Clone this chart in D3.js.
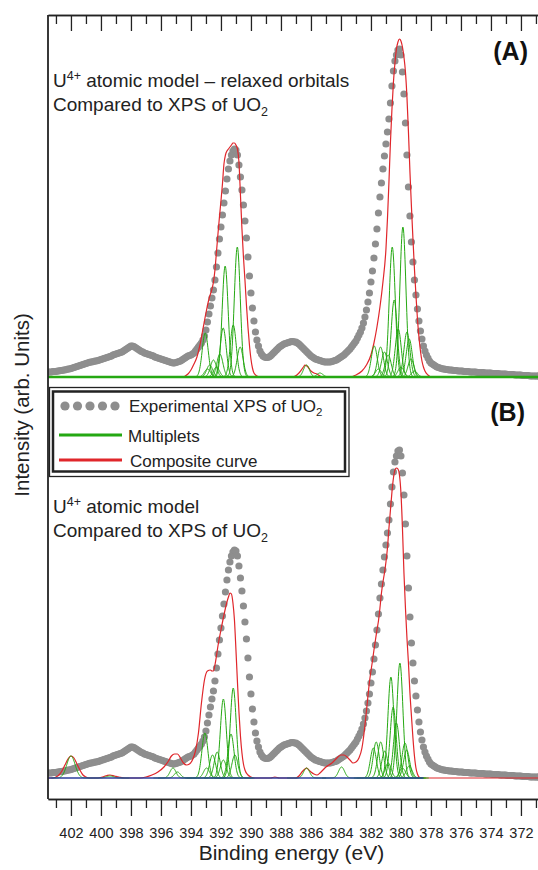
<!DOCTYPE html>
<html>
<head>
<meta charset="utf-8">
<script src="https://cdn.jsdelivr.net/npm/d3@7"></script>
<style>
  body { margin: 0; background: #fff; }
  svg { display: block; font-family: "Liberation Sans", Arial, sans-serif; }
</style>
</head>
<body>
<div id="chart"></div>
<script>
// ---- data (intensity in arbitrary units) ----
// experimental XPS of UO2, one value every 0.1 eV starting at 403.5 eV
var expStart = 403.5, expStep = 0.1;
var expIntensity = [
  5,5,5,5.5,5.5,5.5,
  6,6,6.5,6.5,7,7,7.5,8,8,8.5,
  9,9.5,10,10.5,11,11.5,12,12.5,13,13.5,
  14,14.5,15,15,15.5,16,16,16.5,17,17.5,
  18,18.5,19,19.5,20,20.5,21,22,22.5,23,
  23.5,24,24.5,25,26,27,28,29,30,31,
  31,30.5,29.5,28.5,27.5,26.5,25.5,25,24,23.5,
  23,22.5,22,21.5,21,20,19.5,19,18.5,18,
  17.5,17,16.5,16,15.5,15,14.5,14,14,14.5,
  15,15.5,16,17,18,19,20,21,21.5,22,
  23,24,26,28,30,32,34,37,41,47,
  55,63,71,79,87,97,110,124,138,150,
  162,174,186,198,208,216,222,226,228,227,
  222,212,200,187,172,156,139,120,101,84,
  69,56,45,37,31,26,23,21,20,19.5,
  19.5,20,21,22.5,24,25.5,27,28.5,30,31,
  32,33,33.5,34,34.5,35,35.5,35.5,35,35,
  34,33,31.5,30,28.5,27,25.5,24,22.5,21,
  20,19,18,17.5,17,16.5,16,15.5,15,15,
  15,15,15,15.5,16,16.5,17,18,19,20,
  21,22,23.5,25,26.5,28,30,32,34,36,
  39,42,45,49,54,60,67,75,84,95,
  106,119,133,148,164,180,194,208,221,233,
  245,258,274,291,306,316,322,327,328,322,
  305,283,254,222,190,161,135,115,97,82,
  68,56,46,38,31,26,22,19,16,14,
  13,12,11,10,9.5,9,8.5,8,8,7.5,
  7.5,7,7,7,6.5,6.5,6.5,6,6,6,
  6,5.5,5.5,5.5,5.5,5,5,5,5,5,
  4.5,4.5,4.5,4.5,4.5,4,4,4,4,4,
  3.5,3.5,3.5,3.5,3.5,3,3,3,3,3,
  2.5,2.5,2.5,2.5,2.5,2,2,2,2,2,
  1.5,1.5,1.5,1.5,1.5,1,1,1,1,1,
  1,1
];

// composite curves [binding energy, intensity]
var compositeA = [
  [403.53,0],[394.6,0],[394.2,3],[394.0,7],[393.8,13],[393.6,20],[393.4,32],[393.2,48],[393.0,64],
  [392.8,78],[392.6,88],[392.5,95],[392.4,107],[392.3,125],[392.2,143],[392.1,160],[392.0,176],
  [391.9,193],[391.8,213],[391.7,222],[391.6,226],[391.5,228],[391.4,230],[391.3,232],[391.2,234],
  [391.1,234],[391.0,232],[390.9,228],[390.8,215],[390.7,182],[390.6,148],[390.5,120],[390.4,97],
  [390.3,72],[390.2,50],[390.1,32],[390.0,18],[389.9,9],[389.8,4],[389.6,1],[389.4,0],
  [387.2,0],[386.8,4],[386.5,10],[386.4,12],[386.2,10],[386.0,6],[385.8,4],[385.6,3],[385.4,1],[385.2,0],
  [383.4,0],[383.0,2],[382.6,6],[382.3,12],[382.0,22],[381.8,34],[381.6,50],[381.4,70],[381.2,95],
  [381.0,128],[380.9,158],[380.8,195],[380.7,235],[380.6,268],[380.5,295],[380.4,314],[380.3,328],
  [380.2,335],[380.1,338],[380.0,336],[379.9,330],[379.8,320],[379.7,305],[379.6,280],[379.5,245],
  [379.4,205],[379.3,170],[379.2,138],[379.1,108],[379.0,82],[378.9,58],[378.8,40],[378.7,26],
  [378.6,16],[378.5,10],[378.4,6],[378.2,2],[378.0,0],[370.73,0]
];
var compositeB = [
  [403.53,0],[403.2,0],[403.0,1],[402.8,3],[402.6,7],[402.4,13],[402.2,19],[402.0,22],[401.8,20],
  [401.6,14],[401.4,8],[401.2,3],[401.0,1],[400.8,0],[400.2,0],[399.9,1],[399.6,2.5],[399.4,3],
  [399.1,2],[398.8,1],[398.4,0],[397.4,0],[397.0,1],[396.6,3],[396.2,6],[395.8,11],[395.5,17],
  [395.3,22],[395.1,24],[394.9,24],[394.7,20],[394.5,15],[394.3,13],[394.1,14],[393.9,18],
  [393.7,27],[393.5,45],[393.3,75],[393.1,98],[392.9,107],[392.7,108],[392.6,107],[392.5,107],
  [392.4,113],[392.3,122],[392.2,132],[392.0,148],[391.8,163],[391.6,176],[391.5,181],[391.4,185],
  [391.3,184],[391.2,175],[391.1,158],[391.0,128],[390.9,96],[390.8,66],[390.7,42],[390.6,25],
  [390.5,14],[390.4,8],[390.2,3],[390.0,1],[389.8,0],[388.7,0],[388.4,1],[388.1,0],[387.0,0],
  [386.8,2],[386.6,6],[386.4,9],[386.3,10],[386.2,9],[386.0,6],[385.8,4],[385.6,3],[385.4,5],
  [385.2,8],[385.0,11],[384.8,13],[384.6,15],[384.4,18],[384.2,21],[384.0,23],[383.8,23],
  [383.6,21],[383.4,18],[383.2,15],[383.0,16],[382.8,20],[382.6,30],[382.5,40],[382.4,53],
  [382.3,67],[382.2,82],[382.1,96],[382.0,107],[381.9,117],[381.8,128],[381.7,138],[381.6,148],
  [381.5,157],[381.4,170],[381.3,185],[381.2,196],[381.1,205],[381.0,216],[380.9,230],[380.8,250],
  [380.7,268],[380.6,286],[380.5,300],[380.4,308],[380.3,310],[380.2,309],[380.1,303],[380.0,285],
  [379.9,250],[379.8,205],[379.7,170],[379.6,140],[379.5,115],[379.4,85],[379.3,62],[379.2,40],
  [379.1,22],[379.0,10],[378.9,4],[378.8,1],[378.6,0],[370.73,0]
];

// multiplet lines [centre eV, height, gaussian width eV]
var multipletsA = [
  [393.05,44,0.2],[392.9,8,0.2],[392.75,12,0.2],[392.5,17,0.2],[392.3,10,0.2],[392.07,23,0.2],
  [391.85,49,0.2],[391.72,111,0.2],[391.18,52,0.2],[390.91,130,0.2],[390.72,30,0.2],
  [386.3,12,0.2],[385.4,4,0.2],
  [381.78,31,0.2],[381.5,8,0.2],[381.36,30,0.2],[381.1,25,0.2],[380.85,22,0.2],[380.58,130,0.2],
  [380.45,77,0.2],[380.18,48,0.2],[380.0,10,0.2],[379.87,150,0.2],[379.6,45,0.2],[379.45,38,0.2],
  [379.33,18,0.2],[379.1,6,0.2]
];
var multipletsB = [
  [402.0,22,0.28],[399.4,2,0.25],[395.2,10,0.2],[394.9,6,0.2],
  [393.07,45,0.2],[392.96,10,0.2],[392.56,23,0.2],[392.25,26,0.2],[391.84,79,0.2],[391.84,18,0.2],
  [391.33,44,0.2],[391.18,90,0.2],[391.07,23,0.2],
  [386.29,10,0.2],[383.96,11,0.2],
  [381.84,30,0.2],[381.65,36,0.2],[381.35,36,0.2],[381.08,27,0.2],[380.85,15,0.2],[380.67,101,0.2],
  [380.52,71,0.2],[380.3,55,0.2],[380.07,115,0.2],[379.9,10,0.2],[379.73,35,0.2],[379.62,28,0.2],
  [379.45,12,0.2]
];

var baselineA = [[403.53,0],[370.73,0]];
var baselineB = [[403.53,0],[378.5,0]];

var majorTicks = [402,400,398,396,394,392,390,388,386,384,382,380,378,376,374,372];
var minorTicks = [403,401,399,397,395,393,391,389,387,385,383,381,379,377,375,373,371];

// ---- layout ----
var W = 538, H = 870;
var colGray = "#8e8e8e", colGreen = "#25a812", colRed = "#e0262b", colBlue = "#2c3f9c", colAxis = "#222";

var svg = d3.select("#chart").append("svg")
    .attr("width", W)
    .attr("height", H);

var x = d3.scaleLinear().domain([403.53, 370.73]).range([48, 540]);
var yA = d3.scaleLinear().domain([0, 362]).range([377, 15]);
var yB = d3.scaleLinear().domain([0, 362]).range([778, 416]);

svg.append("clipPath").attr("id", "plotclip")
  .append("rect").attr("x", 48).attr("y", 15).attr("width", 492).attr("height", 784);

var plot = svg.append("g").attr("clip-path", "url(#plotclip)");

var expPoints = expIntensity.map(function(v, i) {
    return { e: +(expStart - i * expStep).toFixed(2), v: v };
});

function gaussLine(m) {
    var pts = [];
    for (var e = m[0] + 1.3; e >= m[0] - 1.3; e -= 0.02) {
        pts.push([e, m[1] * Math.exp(-0.5 * Math.pow((e - m[0]) / m[2], 2))]);
    }
    return pts;
}

function drawPanel(y, composite, multiplets, baseline, baseColor, baseWidth) {
    var g = plot.append("g");
    var line = d3.line()
        .x(function(d) { return x(d[0]); })
        .y(function(d) { return y(d[1]); });

    // experimental points
    g.append("g").selectAll("circle")
        .data(expPoints)
      .enter().append("circle")
        .attr("cx", function(d) { return x(d.e); })
        .attr("cy", function(d) { return y(d.v); })
        .attr("r", 3.6)
        .style("fill", colGray);

    // composite curve
    g.append("path")
        .datum(composite)
        .attr("d", line.curve(d3.curveMonotoneX))
        .style("fill", "none")
        .style("stroke", colRed)
        .style("stroke-width", 1.2);

    // multiplets
    g.append("g").selectAll("path")
        .data(multiplets)
      .enter().append("path")
        .attr("d", function(d) { return d3.line().x(function(p) { return x(p[0]); }).y(function(p) { return y(p[1]); })(gaussLine(d)); })
        .style("fill", "none")
        .style("stroke", colGreen)
        .style("stroke-width", 1);

    g.append("path")
        .datum(baseline)
        .attr("d", d3.line().x(function(d) { return x(d[0]); }).y(function(d) { return y(d[1]); }))
        .style("stroke", baseColor)
        .style("stroke-width", baseWidth);
}

drawPanel(yA, compositeA, multipletsA, baselineA, colGreen, 2.5);
drawPanel(yB, compositeB, multipletsB, baselineB, colBlue, 1.5);

// ---- axes ----
function styleAxis(g) {
    g.selectAll("line").style("stroke", colAxis).style("stroke-width", 1.3);
    g.selectAll("path.domain").style("stroke", colAxis).style("stroke-width", 1.6);
}

var topAxis = svg.append("g").attr("transform", "translate(0,15)");
topAxis.call(d3.axisBottom(x).tickValues(majorTicks).tickSize(16).tickSizeOuter(0).tickFormat(""));
topAxis.append("g").call(d3.axisBottom(x).tickValues(minorTicks).tickSize(9).tickSizeOuter(0).tickFormat(""));
styleAxis(topAxis);

var bottomAxis = svg.append("g").attr("transform", "translate(0,799)");
bottomAxis.call(d3.axisBottom(x).tickValues(majorTicks).tickSize(17).tickSizeOuter(0).tickPadding(12).tickFormat(d3.format("d")));
bottomAxis.append("g").call(d3.axisBottom(x).tickValues(minorTicks).tickSize(9).tickSizeOuter(0).tickFormat(""));
styleAxis(bottomAxis);
bottomAxis.selectAll("text")
    .style("font-family", "'Liberation Sans', Arial, sans-serif")
    .style("font-size", "14.5px")
    .style("fill", "#222");

svg.append("line")
    .attr("x1", 48).attr("x2", 48)
    .attr("y1", 15).attr("y2", 799)
    .style("stroke", colAxis).style("stroke-width", 1.8);

// axis titles
svg.append("text")
    .attr("x", x(387.3)).attr("y", 860)
    .attr("text-anchor", "middle")
    .style("font-size", "21px").style("fill", "#222")
    .text("Binding energy (eV)");

svg.append("text")
    .attr("transform", "translate(29,405) rotate(-90)")
    .attr("text-anchor", "middle")
    .style("font-size", "20.5px").style("fill", "#222")
    .text("Intensity (arb. Units)");

// ---- annotations ----
function caption(yTop, firstLine) {
    var t1 = svg.append("text").attr("x", 53).attr("y", yTop)
        .style("font-size", "19px").style("fill", "#222");
    t1.append("tspan").text("U");
    t1.append("tspan").attr("dy", -7).style("font-size", "12.5px").text("4+");
    t1.append("tspan").attr("dy", 7).text(" " + firstLine);

    var t2 = svg.append("text").attr("x", 53).attr("y", yTop + 24)
        .style("font-size", "19px").style("fill", "#222");
    t2.append("tspan").text("Compared to XPS of UO");
    t2.append("tspan").attr("dy", 5).style("font-size", "12.5px").text("2");
}
caption(87, "atomic model \u2013 relaxed orbitals");
caption(513, "atomic model");

svg.append("text").attr("x", 528).attr("y", 60)
    .attr("text-anchor", "end")
    .style("font-size", "25px").style("font-weight", "bold").style("fill", "#111")
    .text("(A)");
svg.append("text").attr("x", 525).attr("y", 421)
    .attr("text-anchor", "end")
    .style("font-size", "25px").style("font-weight", "bold").style("fill", "#111")
    .text("(B)");

// ---- legend ----
var legend = svg.append("g");
legend.append("rect")
    .attr("x", 49.5).attr("y", 387.5).attr("width", 299.5).attr("height", 89)
    .style("fill", "#fff").style("stroke", "#222").style("stroke-width", 1.3);
legend.append("rect")
    .attr("x", 53).attr("y", 391.5).attr("width", 292).attr("height", 80)
    .style("fill", "none").style("stroke", "#222").style("stroke-width", 2.5);

var legendDots = [65, 77.5, 90, 102.5, 115];
legend.selectAll("circle.ld")
    .data(legendDots)
  .enter().append("circle")
    .attr("cx", function(d) { return d; })
    .attr("cy", 406)
    .attr("r", 4.6)
    .style("fill", colGray);

legend.append("line").attr("x1", 59).attr("x2", 122).attr("y1", 435).attr("y2", 435)
    .style("stroke", colGreen).style("stroke-width", 3);
legend.append("line").attr("x1", 59).attr("x2", 122).attr("y1", 460).attr("y2", 460)
    .style("stroke", colRed).style("stroke-width", 3);

var lt = legend.append("text").attr("x", 129).attr("y", 412)
    .style("font-size", "17px").style("fill", "#222");
lt.append("tspan").text("Experimental XPS of UO");
lt.append("tspan").attr("dy", 4).style("font-size", "11.5px").text("2");
legend.append("text").attr("x", 128).attr("y", 442)
    .style("font-size", "17px").style("fill", "#222").text("Multiplets");
legend.append("text").attr("x", 130).attr("y", 467)
    .style("font-size", "17px").style("fill", "#222").text("Composite curve");
</script>
</body>
</html>
